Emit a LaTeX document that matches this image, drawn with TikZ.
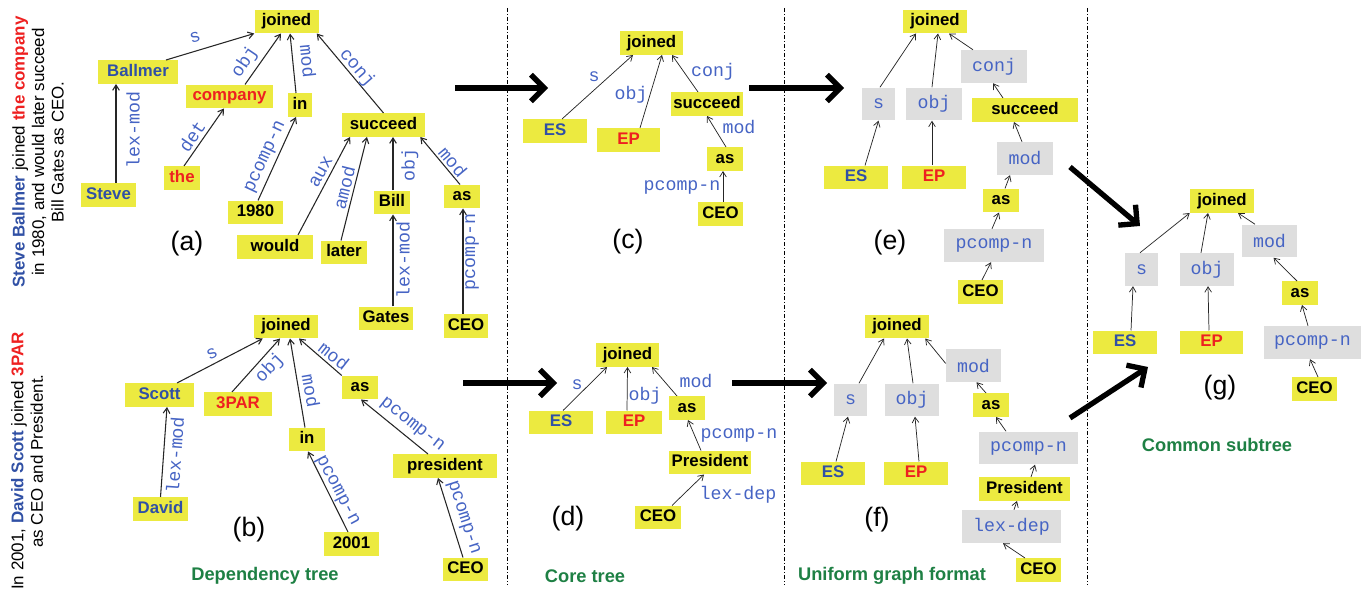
\documentclass[tikz,border=0pt]{standalone}
\usepackage{fontspec}
\setmainfont{Liberation Sans}
\setmonofont{Liberation Mono}
\usetikzlibrary{arrows.meta,calc}

\definecolor{boxyellow}{RGB}{236,234,64}
\definecolor{boxgray}{RGB}{222,222,222}
\definecolor{relblue}{RGB}{70,100,196}
\definecolor{nameblue}{RGB}{48,80,165}
\definecolor{namered}{RGB}{238,32,32}
\definecolor{capgreen}{RGB}{30,128,68}

\tikzset{
  word/.style={fill=boxyellow, inner sep=0pt, minimum width=#1*0.75pt, minimum height=17.6pt,
    text height=9pt, text depth=2.6pt, font=\fontsize{12.6}{14}\selectfont\bfseries},
  rel/.style={fill=boxgray, text=relblue, inner sep=0pt, minimum width=#1*0.75pt, minimum height=24.7pt,
    font=\fontsize{13.7}{15}\selectfont\ttfamily},
  lab/.style={text=relblue, inner sep=0pt, font=\fontsize{13.7}{15}\selectfont\ttfamily},
  dep/.style={-{Straight Barb[length=4pt,width=5pt]}, line width=0.8pt, draw=black!85},
  thindep/.style={dep, line width=0.55pt},
  bigarrow/.style={-{Straight Barb[length=10pt,width=20pt]}, line width=4pt},
  divider/.style={line width=0.5pt, dash pattern=on 3pt off 1.5pt on 0.75pt off 1.5pt},
  tag/.style={inner sep=0pt, font=\fontsize{20}{22}\selectfont},
  caption/.style={inner sep=0pt, text=capgreen, font=\fontsize{13.7}{15}\selectfont\bfseries},
  story/.style={inner sep=0pt, align=center, rotate=90, font=\fontsize{12.7}{14.6}\selectfont},
}

\begin{document}
\begin{tikzpicture}[x=0.75pt,y=0.75pt,yscale=-1,xscale=1]
\useasboundingbox (0,0) rectangle (1361,591);

% Sentences
\node[story] (storyA) at (38,152) {\textcolor{nameblue}{\bfseries Steve Ballmer} joined \textcolor{namered}{\bfseries the company}\\ in 1980, and would later succeed\\ Bill Gates as CEO.};
\node[story] (storyB) at (27,461) {In 2001, \textcolor{nameblue}{\bfseries David Scott} joined \textcolor{namered}{\bfseries 3PAR}\\ as CEO and President.};

% Dividers
\draw[divider] (507,8) -- (507,585);
\draw[divider] (784.5,8) -- (784.5,585);
\draw[divider] (1087,8) -- (1087,585);

% ---------- (a)
\node[word=64] (aJoined) at (286.5,21.5) {joined};
\node[word=80, text=nameblue] (aBallmer) at (138,72) {Ballmer};
\node[word=87, text=namered] (aCompany) at (229.5,96.5) {company};
\node[word=24] (aIn) at (300,105) {in};
\node[word=83] (aSucceed) at (383.5,125) {succeed};
\node[word=55, text=nameblue] (aSteve) at (108.5,195) {Steve};
\node[word=36, text=namered] (aThe) at (182,178) {the};
\node[word=55] (aYear) at (255.5,212.5) {1980};
\node[word=76] (aWould) at (275,247) {would};
\node[word=46] (aLater) at (344,252.5) {later};
\node[word=36] (aBill) at (392,202.5) {Bill};
\node[word=36] (aAs) at (462,196.5) {as};
\node[word=54] (aGates) at (386,318.5) {Gates};
\node[word=44] (aCEO) at (466,326) {CEO};
%Straight Lines
\draw[dep] ($(aBallmer.north)+(28,0)$) -- (aJoined.south west);
\draw[dep] ($(aCompany.north)+(15.5,0)$) -- ($(aJoined.south)+(-5.5,0)$);
\draw[dep] ($(aIn.north)+(-4,0)$) -- ($(aJoined.south)+(3.5,0)$);
\draw[dep] (aSucceed.north) -- ($(aJoined.south east)+(-2,0)$);
\draw[dep] ($(aSteve.north)+(7.5,0)$) -- ($(aBallmer.south)+(-22,0)$);
\draw[dep] ($(aThe.north)+(2,0)$) -- ($(aCompany.south)+(-5.5,0)$);
\draw[dep] ($(aYear.north)+(2.5,0)$) -- ($(aIn.south)+(-4,0)$);
\draw[dep] ($(aWould.north)+(23,0)$) -- ($(aSucceed.south)+(-33.5,0)$);
\draw[dep] ($(aLater.north)+(-3,0)$) -- ($(aSucceed.south)+(-16.5,0)$);
\draw[dep] ($(aBill.north)+(1,0)$) -- ($(aSucceed.south)+(9.5,0)$);
\draw[dep] ($(aAs.north)+(-2,0)$) -- ($(aSucceed.south east)+(-5,0)$);
\draw[dep] ($(aGates.north)+(7,0)$) -- ($(aBill.south)+(1,0)$);
\draw[dep] ($(aCEO.north)+(-3,0)$) -- ($(aAs.south)+(1,0)$);
% Text Node
\node[lab, rotate=16] (aRelS) at (195,37) {s};
\node[lab, rotate=56] (aRelObj) at (245,62) {obj};
\node[lab, rotate=-84] (aRelMod) at (308,61) {mod};
\node[lab, rotate=-49] (aRelConj) at (357,68) {conj};
\node[lab, rotate=90] (aRelLex) at (133,130) {lex-mod};
\node[lab, rotate=56] (aRelDet) at (192,136) {det};
\node[lab, rotate=65] (aRelPcomp) at (266,157) {pcomp-n};
\node[lab, rotate=61] (aRelAux) at (321,172) {aux};
\node[lab, rotate=76] (aRelAmod) at (344,188) {amod};
\node[lab, rotate=90] (aRelObjB) at (410,165) {obj};
\node[lab, rotate=-50] (aRelModB) at (453,162) {mod};
\node[lab, rotate=90] (aRelLexB) at (403,260) {lex-mod};
\node[lab, rotate=90] (aRelPcompB) at (472,252) {pcomp-n};
\node[tag] (aTag) at (187,244) {(a)};

% ---------- (b)
\node[word=64] (bJoined) at (286,326.5) {joined};
\node[word=69, text=nameblue] (bScott) at (159.5,395) {Scott};
\node[word=68, text=namered] (bPar) at (238,404) {3PAR};
\node[word=36] (bAs) at (360,387.5) {as};
\node[word=36] (bIn) at (307,439.5) {in};
\node[word=104] (bPresident) at (445,466) {president};
\node[word=55, text=nameblue] (bDavid) at (160.5,509) {David};
\node[word=55] (bYear) at (351.5,544) {2001};
\node[word=45] (bCEO) at (465.5,569.5) {CEO};
%Straight Lines
\draw[dep] ($(bScott.north)+(17.5,0)$) -- ($(bJoined.south west)+(9,0)$);
\draw[dep] ($(bPar.north)+(-6,0)$) -- ($(bJoined.south)+(-6,0)$);
\draw[dep] ($(bIn.north)+(-2,0)$) -- ($(bJoined.south)+(4,0)$);
\draw[dep] (bAs.north west) -- ($(bJoined.south)+(13,0)$);
\draw[dep] (bDavid.north) -- ($(bScott.south)+(7.5,0)$);
\draw[dep] ($(bYear.north)+(-3.5,0)$) -- ($(bIn.south)+(1,0)$);
\draw[dep] ($(bPresident.north)+(-17,0)$) -- ($(bAs.south)+(1,0)$);
\draw[dep] ($(bCEO.north)+(-2.5,0)$) -- ($(bPresident.south)+(-7,0)$);
% Text Node
\node[lab, rotate=26] (bRelS) at (212,354) {s};
\node[lab, rotate=46] (bRelObj) at (270,368) {obj};
\node[lab, rotate=-80] (bRelMod) at (311,391) {mod};
\node[lab, rotate=-38] (bRelModB) at (334,356) {mod};
\node[lab, rotate=86] (bRelLex) at (175,455) {lex-mod};
\node[lab, rotate=-62] (bRelPcomp) at (337,491) {pcomp-n};
\node[lab, rotate=-38] (bRelPcompB) at (412,425) {pcomp-n};
\node[lab, rotate=-72] (bRelPcompC) at (463,518) {pcomp-n};
\node[tag] (bTag) at (249,530) {(b)};
\node[caption] (bCap) at (265,576) {Dependency tree};

% ---------- (c)
\node[word=63] (cJoined) at (651.5,43) {joined};
\node[word=64, text=nameblue] (cES) at (555,131) {ES};
\node[word=63, text=namered] (cEP) at (628.5,140) {EP};
\node[word=72] (cSucceed) at (707,104) {succeed};
\node[word=36] (cAs) at (725,159) {as};
\node[word=45] (cCEO) at (720.5,214) {CEO};
%Straight Lines
\draw[thindep] ($(cES.north)+(7,0)$) -- ($(cJoined.south)+(-18.5,0)$);
\draw[thindep] ($(cEP.north)+(11.5,0)$) -- ($(cJoined.south)+(10.5,0)$);
\draw[thindep] ($(cSucceed.north)+(-9,0)$) -- ($(cJoined.south)+(20.5,0)$);
\draw[thindep] ($(cAs.north)+(1,0)$) -- (cSucceed.south);
\draw[thindep] ($(cCEO.north)+(2.5,0)$) -- ($(cAs.south)+(-2,0)$);
% Text Node
\node[lab] (cRelS) at (594,77) {s};
\node[lab] (cRelObj) at (631,95) {obj};
\node[lab] (cRelConj) at (713,72) {conj};
\node[lab] (cRelMod) at (739,127) {mod};
\node[lab] (cRelPcomp) at (682,187) {pcomp-n};
\node[tag] (cTag) at (628,242) {(c)};

% ---------- (d)
\node[word=63] (dJoined) at (627.5,355) {joined};
\node[word=64, text=nameblue] (dES) at (561,422.5) {ES};
\node[word=56, text=namered] (dEP) at (634,422.5) {EP};
\node[word=36] (dAs) at (687,408) {as};
\node[word=82] (dPresident) at (710,462.5) {President};
\node[word=46] (dCEO) at (658,517.5) {CEO};
%Straight Lines
\draw[thindep] ($(dES.north)+(2,0)$) -- ($(dJoined.south)+(-20.5,0)$);
\draw[thindep] ($(dEP.north)+(-7,0)$) -- (dJoined.south);
\draw[thindep] ($(dAs.north)+(-10,0)$) -- ($(dJoined.south)+(24.5,0)$);
\draw[thindep] ($(dPresident.north)+(-9,0)$) -- ($(dAs.south)+(1,0)$);
\draw[thindep] ($(dCEO.north)+(14,0)$) -- ($(dPresident.south)+(-6,0)$);
% Text Node
\node[lab] (dRelS) at (577,385) {s};
\node[lab] (dRelObj) at (645,396) {obj};
\node[lab] (dRelMod) at (696,381) {mod};
\node[lab] (dRelPcomp) at (739,435) {pcomp-n};
\node[lab] (dRelLex) at (738,495) {lex-dep};
\node[tag] (dTag) at (568,519) {(d)};
\node[caption] (dCap) at (585,576) {Core tree};

% ---------- (e)
\node[word=64] (eJoined) at (935,21.5) {joined};
\node[rel=33] (eS) at (878.5,104) {s};
\node[rel=56] (eObj) at (934,104) {obj};
\node[rel=66] (eConj) at (994,66.5) {conj};
\node[word=106] (eSucceed) at (1025,110) {succeed};
\node[word=64, text=nameblue] (eES) at (856,177.5) {ES};
\node[word=64, text=namered] (eEP) at (934,177.5) {EP};
\node[rel=56] (eMod) at (1025,158.5) {mod};
\node[word=36] (eAs) at (1001,200.5) {as};
\node[rel=100] (ePcomp) at (994,245.5) {pcomp-n};
\node[word=45] (eCEO) at (980.5,292) {CEO};
%Straight Lines
\draw[thindep] ($(eS.north)+(1.5,0)$) -- ($(eJoined.south)+(-19,0)$);
\draw[thindep] ($(eObj.north)+(-2,0)$) -- ($(eJoined.south)+(3,0)$);
\draw[thindep] ($(eConj.north)+(-21,0)$) -- ($(eJoined.south)+(14,0)$);
\draw[thindep] ($(eES.north)+(9,0)$) -- (eS.south);
\draw[thindep] ($(eEP.north)+(-2,0)$) -- ($(eObj.south)+(-2,0)$);
\draw[thindep] ($(eSucceed.north)+(-22,0)$) -- ($(eConj.south)+(-1,0)$);
\draw[thindep] ($(eMod.north)+(-3,0)$) -- ($(eSucceed.south)+(-11,0)$);
\draw[thindep] ($(eAs.north)+(4,0)$) -- ($(eMod.south)+(-15,0)$);
\draw[thindep] ($(ePcomp.north)+(-2,0)$) -- ($(eAs.south)+(-2,0)$);
\draw[thindep] ($(eCEO.north)+(1.5,0)$) -- ($(ePcomp.south)+(-3,0)$);
\node[tag] (eTag) at (890,243) {(e)};

% ---------- (f)
\node[word=64] (fJoined) at (897,326.5) {joined};
\node[rel=33] (fS) at (850.5,400) {s};
\node[rel=54] (fObj) at (912,400) {obj};
\node[rel=55] (fMod) at (973.5,365.5) {mod};
\node[word=36] (fAs) at (991,405) {as};
\node[rel=99] (fPcomp) at (1028.5,448) {pcomp-n};
\node[word=91] (fPresident) at (1024.5,489) {President};
\node[rel=99] (fLex) at (1011.5,526.5) {lex-dep};
\node[word=64, text=nameblue] (fES) at (833,473.5) {ES};
\node[word=64, text=namered] (fEP) at (916,473.5) {EP};
\node[word=45] (fCEO) at (1038.5,570) {CEO};
%Straight Lines
\draw[thindep] ($(fS.north)+(8.5,0)$) -- ($(fJoined.south)+(-13,0)$);
\draw[thindep] ($(fObj.north)+(1,0)$) -- ($(fJoined.south)+(10,0)$);
\draw[thindep] ($(fMod.west)+(0,-2)$) -- ($(fJoined.south east)+(-4,0)$);
\draw[thindep] ($(fES.north)+(3,0)$) -- ($(fS.south)+(-2.5,0)$);
\draw[thindep] ($(fEP.north)+(3,0)$) -- ($(fObj.south)+(3,0)$);
\draw[thindep] ($(fAs.north)+(-5,0)$) -- ($(fMod.south)+(3,0)$);
\draw[thindep] ($(fPcomp.north)+(-22.5,0)$) -- ($(fAs.south)+(5,0)$);
\draw[thindep] ($(fPresident.north)+(6.5,0)$) -- ($(fPcomp.south)+(6.5,0)$);
\draw[thindep] ($(fLex.north)+(2.5,0)$) -- ($(fPresident.south)+(-7.5,0)$);
\draw[thindep] ($(fCEO.north)+(-13.5,0)$) -- ($(fLex.south)+(-8.5,0)$);
\node[tag] (fTag) at (877,520) {(f)};
\node[caption] (fCap) at (892,576) {Uniform graph format};

% ---------- (g)
\node[word=64] (gJoined) at (1222,201) {joined};
\node[rel=33] (gS) at (1141.5,269.5) {s};
\node[rel=54] (gObj) at (1207,269.5) {obj};
\node[rel=55] (gMod) at (1269.5,241) {mod};
\node[word=36] (gAs) at (1300,293) {as};
\node[rel=97] (gPcomp) at (1312.5,342.5) {pcomp-n};
\node[word=45] (gCEO) at (1314.5,389) {CEO};
\node[word=64, text=nameblue] (gES) at (1125,342.5) {ES};
\node[word=63, text=namered] (gEP) at (1211.5,342.5) {EP};
%Straight Lines
\draw[thindep] ($(gS.north)+(-1.5,0)$) -- (gJoined.south west);
\draw[thindep] ($(gObj.north)+(-6,0)$) -- ($(gJoined.south)+(-14,0)$);
\draw[thindep] ($(gMod.north)+(-14.5,0)$) -- ($(gJoined.south)+(16,0)$);
\draw[thindep] ($(gES.north)+(6,0)$) -- ($(gS.south)+(-8.5,0)$);
\draw[thindep] ($(gEP.north)+(-2.5,0)$) -- ($(gObj.south)+(1,0)$);
\draw[thindep] ($(gAs.north)+(-3,0)$) -- ($(gMod.south)+(4,0)$);
\draw[thindep] ($(gPcomp.north)+(-4.5,0)$) -- ($(gAs.south)+(2,0)$);
\draw[thindep] ($(gCEO.north)+(3.5,0)$) -- ($(gPcomp.south)+(-2.5,0)$);
\node[tag] (gTag) at (1220,388) {(g)};
\node[caption] (gCap) at (1217,445) {Common subtree};

% ---------- big arrows between stages
\coordinate (acFrom) at (455,88);
\coordinate (acTo) at (548,88);
\coordinate (ceFrom) at (749,88);
\coordinate (ceTo) at (844,88);
\coordinate (bdFrom) at (463,383);
\coordinate (bdTo) at (557,383);
\coordinate (dfFrom) at (732,383);
\coordinate (dfTo) at (827,383);
\coordinate (egFrom) at (1070,167);
\coordinate (egTo) at (1140,226);
\coordinate (fgFrom) at (1070,418);
\coordinate (fgTo) at (1148,367);
\draw[bigarrow] (acFrom) -- (acTo);
\draw[bigarrow] (ceFrom) -- (ceTo);
\draw[bigarrow] (bdFrom) -- (bdTo);
\draw[bigarrow] (dfFrom) -- (dfTo);
\draw[bigarrow] (egFrom) -- (egTo);
\draw[bigarrow] (fgFrom) -- (fgTo);

\end{tikzpicture}
\end{document}
